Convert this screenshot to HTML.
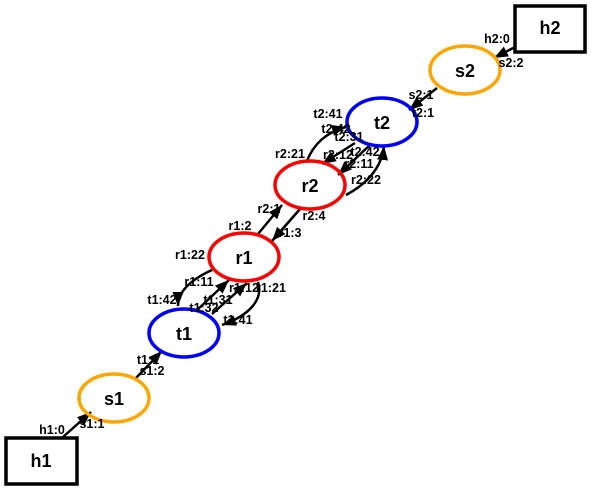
<!DOCTYPE html>
<html><head><meta charset="utf-8"><style>
html,body{margin:0;padding:0;background:#fff}
svg{display:block}
text{font-family:"Liberation Sans",Arial,sans-serif;font-weight:bold;fill:#000}
.n{font-size:18px;text-anchor:middle;dominant-baseline:central}
.l{font-size:12.5px;text-anchor:middle;dominant-baseline:central}
.e{fill:none;stroke:#000;stroke-width:2.5}
</style></head><body>
<svg width="591" height="491" viewBox="0 0 591 491">
<defs><marker id="ah" markerWidth="16" markerHeight="12" refX="14" refY="6" orient="auto" markerUnits="userSpaceOnUse"><path d="M0,0.5 L14,6 L0,11.5 Z" fill="#000"/></marker></defs>

<g>
<path class="e" d="M63,437 L91,412" marker-end="url(#ah)"/>
<path class="e" d="M136,378 L162,351" marker-end="url(#ah)"/>
<path class="e" d="M212,270 C190,280 178,292 178,306" marker-end="url(#ah)"/>
<path class="e" d="M196,311 L229,280" marker-end="url(#ah)"/>
<path class="e" d="M212,314 L247,283" marker-end="url(#ah)"/>
<path class="e" d="M258,282 C264,300 248,316 222,325" marker-end="url(#ah)"/>
<path class="e" d="M258,234 L282,205" marker-end="url(#ah)"/>
<path class="e" d="M300,209 L272,241" marker-end="url(#ah)"/>
<path class="e" d="M307,161 C313,145 326,132 346,127" marker-end="url(#ah)"/>
<path class="e" d="M355,143 L322,164" marker-end="url(#ah)"/>
<path class="e" d="M370,145 L338,175" marker-end="url(#ah)"/>
<path class="e" d="M346,195 C370,182 382,165 384,146" marker-end="url(#ah)"/>
<path class="e" d="M437,88 L409,110" marker-end="url(#ah)"/>
<path class="e" d="M515,47 L494,58" marker-end="url(#ah)"/>
</g>

<g>
<g><rect x="515" y="6" width="70" height="46" fill="#fff" stroke="#000" stroke-width="3.5"/><text class="n" x="550" y="28">h2</text></g>
<g><ellipse cx="465" cy="70" rx="35" ry="24" fill="none" stroke="#FFA500" stroke-width="3.5"/><text class="n" x="465" y="71">s2</text></g>
<g><ellipse cx="382" cy="122" rx="35" ry="24" fill="none" stroke="#0000FF" stroke-width="3.5"/><text class="n" x="382" y="123">t2</text></g>
<g><ellipse cx="310" cy="185" rx="35" ry="24" fill="none" stroke="#FF0000" stroke-width="3.5"/><text class="n" x="310" y="186">r2</text></g>
<g><ellipse cx="244" cy="257" rx="35" ry="24" fill="none" stroke="#FF0000" stroke-width="3.5"/><text class="n" x="244" y="258">r1</text></g>
<g><ellipse cx="184" cy="333" rx="35" ry="24" fill="none" stroke="#0000FF" stroke-width="3.5"/><text class="n" x="184" y="334">t1</text></g>
<g><ellipse cx="114" cy="398" rx="35" ry="24" fill="none" stroke="#FFA500" stroke-width="3.5"/><text class="n" x="114" y="399">s1</text></g>
<g><rect x="6" y="438" width="71" height="46" fill="#fff" stroke="#000" stroke-width="3.5"/><text class="n" x="41" y="461">h1</text></g>
</g>

<g>
<text class="l" x="497" y="39">h2:0</text>
<text class="l" x="511" y="63">s2:2</text>
<text class="l" x="421" y="95">s2:1</text>
<text class="l" x="423" y="113">t2:1</text>
<text class="l" x="328" y="114">t2:41</text>
<text class="l" x="336" y="129">t2:42</text>
<text class="l" x="349" y="137">t2:31</text>
<text class="l" x="290" y="154">r2:21</text>
<text class="l" x="338" y="155">r2:12</text>
<text class="l" x="365" y="152">t2:42</text>
<text class="l" x="359" y="164">r2:11</text>
<text class="l" x="366" y="180">r2:22</text>
<text class="l" x="269" y="209">r2:1</text>
<text class="l" x="314" y="216">r2:4</text>
<text class="l" x="290" y="233">r1:3</text>
<text class="l" x="240" y="226">r1:2</text>
<text class="l" x="190" y="255">r1:22</text>
<text class="l" x="199" y="282">r1:11</text>
<text class="l" x="244" y="288">r1:12</text>
<text class="l" x="271" y="288">r1:21</text>
<text class="l" x="162" y="300">t1:42</text>
<text class="l" x="218" y="300">t1:31</text>
<text class="l" x="204" y="308">t1:32</text>
<text class="l" x="238" y="320">t1:41</text>
<text class="l" x="148" y="360">t1:1</text>
<text class="l" x="152" y="371">s1:2</text>
<text class="l" x="52" y="430">h1:0</text>
<text class="l" x="92" y="424">s1:1</text>
</g>
</svg>
</body></html>
